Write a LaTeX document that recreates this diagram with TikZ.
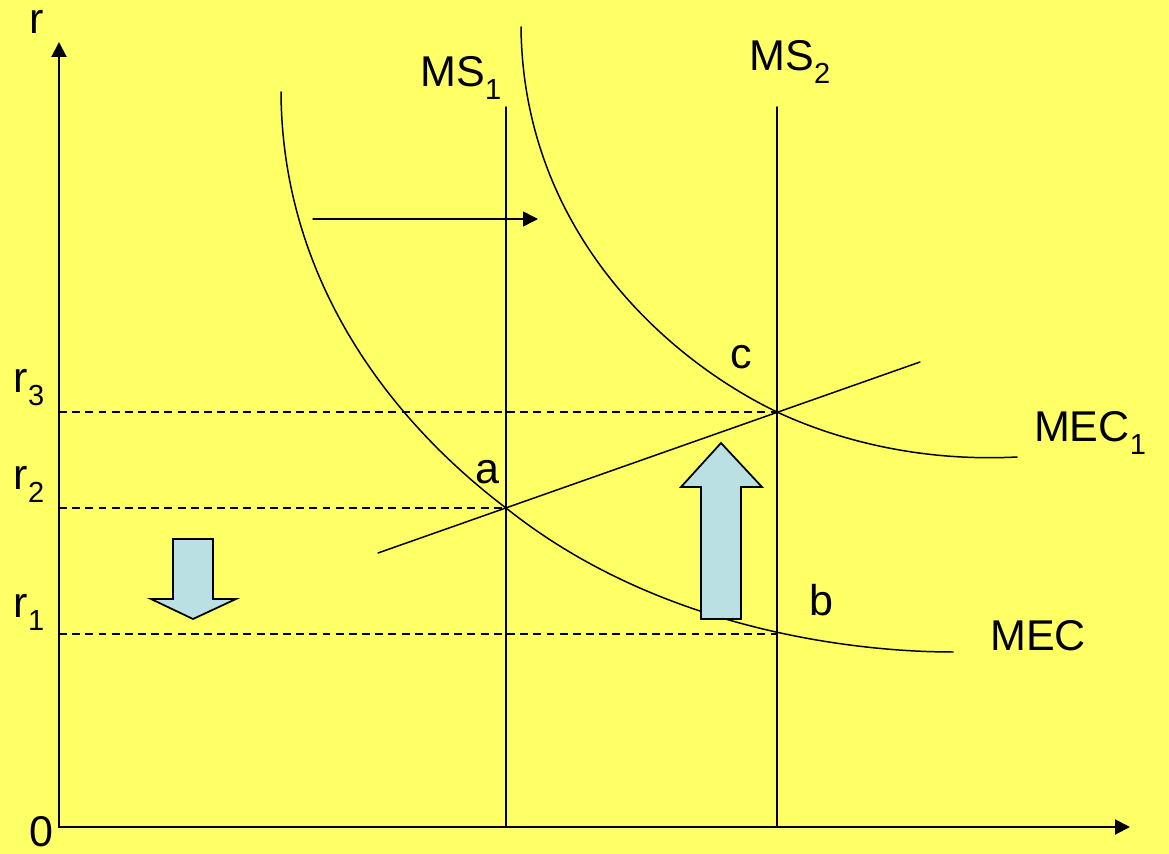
\documentclass[tikz,border=0pt]{standalone}
\usepackage{fontspec}
\setmainfont{Liberation Sans}
\usetikzlibrary{arrows.meta}
\definecolor{bgyellow}{HTML}{FFFF66}
\definecolor{arrowblue}{HTML}{BBE0E3}
\newcommand{\lowsub}[1]{\raisebox{-0.3em}{\fontsize{16.5}{18}\selectfont #1}}
\tikzset{
  every picture/.style={line join=round, line cap=round, >={Triangle[length=8.5pt,width=8.5pt]}},
  axis/.style={line width=1.2pt},
  curve/.style={line width=0.85pt},
  guide/.style={line width=0.85pt, dash pattern=on 4.5pt off 3pt, line cap=butt},
  blockarrow/.style={draw, fill=arrowblue, line width=1pt, line join=miter},
  lbl/.style={font=\fontsize{24.5}{30}\selectfont, inner sep=0pt},
}

\begin{document}
\begin{tikzpicture}[x=0.02cm, y=-0.02cm]
\fill[bgyellow] (0,0) rectangle (1169,854);
\useasboundingbox (0,0) rectangle (1169,854);
% axes
\coordinate (O) at (59,827);
\coordinate (ytop) at (59,42);
\coordinate (xend) at (1130,827);
\draw[axis,->] (O) -- (ytop);
\draw[axis,->] (O) -- (xend);
\node[lbl] (rlbl) at (37,22) {r};
\node[lbl] (zero) at (41,832) {0};
% money supply
\coordinate (ms1top) at (506,107);
\coordinate (ms1bot) at (506,827);
\coordinate (ms2top) at (777,107);
\coordinate (ms2bot) at (777,827);
\draw[curve] (ms1top) -- (ms1bot);
\draw[curve] (ms2top) -- (ms2bot);
\node[lbl] (ms1lbl) at (461,78) {MS\lowsub{1}};
\node[lbl] (ms2lbl) at (790,62) {MS\lowsub{2}};
% points
\coordinate (a) at (506,508);
\coordinate (c) at (777,412);
\coordinate (b) at (777,634);
% MEC curves
\draw[curve] (281,92) .. controls (282,280) and (390,420) .. (a)
  .. controls (656,628) and (850,652) .. (953,652);
\draw[curve] (521,27) .. controls (523,230) and (665,358) .. (c)
  .. controls (837,440) and (920,462) .. (1017,457);
\node[lbl] (mec) at (1038,636) {MEC};
\node[lbl] (mec1) at (1090,433) {MEC\lowsub{1}};
% upward line
\coordinate (sl) at (378,553);
\coordinate (sr) at (920,362);
\draw[curve] (sl) -- (sr);
% dashed levels
\draw[guide] (59,412) -- (c);
\draw[guide] (59,508) -- (a);
\draw[guide] (59,634) -- (b);
\node[lbl] (r3) at (29,388) {r\lowsub{3}};
\node[lbl] (r2) at (29,484) {r\lowsub{2}};
\node[lbl] (r1) at (29,612) {r\lowsub{1}};
\node[lbl] (alab) at (487,472) {a};
\node[lbl] (clab) at (741,357) {c};
\node[lbl] (blab) at (821,600) {b};
% shift arrow
\coordinate (shiftl) at (313,219);
\coordinate (shiftr) at (538,219);
\draw[curve,->] (shiftl) -- (shiftr);
% block arrows
\draw[blockarrow] (701,619) -- (701,487) -- (681,487) -- (721,443) -- (762,487)
  -- (741,487) -- (741,619) -- cycle;
\draw[blockarrow] (173,539) -- (213,539) -- (213,599) -- (236,599) -- (193,619)
  -- (151,599) -- (173,599) -- cycle;
\end{tikzpicture}
\end{document}
